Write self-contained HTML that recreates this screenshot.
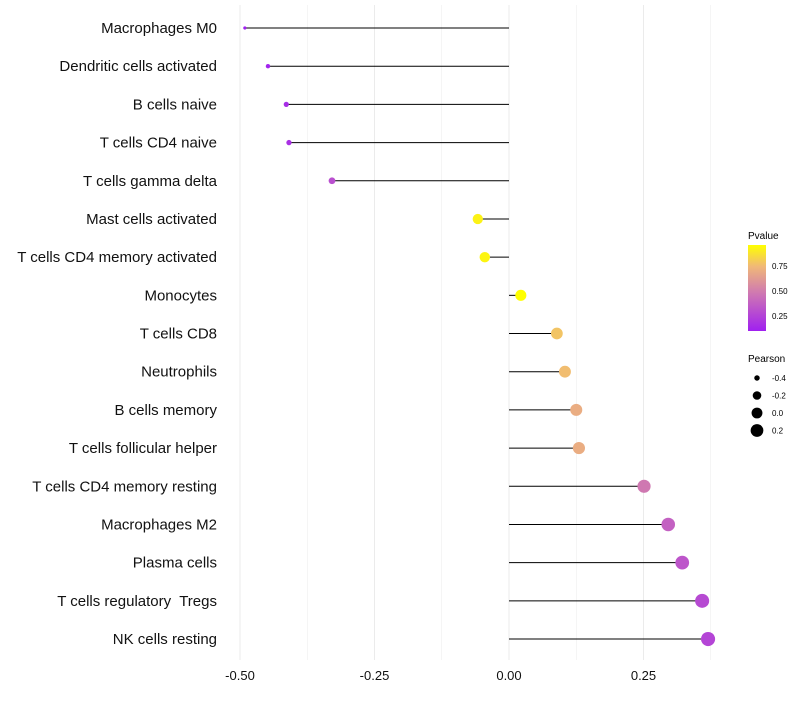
<!DOCTYPE html>
<html><head><meta charset="utf-8"><style>
body{margin:0;background:#fff;}
svg text{font-family:"Liberation Sans",sans-serif;white-space:pre;}
</style></head><body>
<svg id="chart" width="800" height="700" xmlns="http://www.w3.org/2000/svg">
<defs><linearGradient id="pg" x1="0" y1="1" x2="0" y2="0">
<stop offset="0" stop-color="#a020f0"/><stop offset="0.45" stop-color="#d07ab0"/><stop offset="0.75" stop-color="#f0b878"/><stop offset="1" stop-color="#ffff00"/></linearGradient></defs>
<g id="grid"></g><g id="marks"></g><g id="labels"></g><g id="xticks"></g>
<g>
<text x="748" y="239" font-size="10">Pvalue</text>
<rect x="748" y="245" width="18" height="86" fill="url(#pg)"/>
<text x="772" y="269" font-size="8">0.75</text><text x="772" y="294" font-size="8">0.50</text><text x="772" y="319" font-size="8">0.25</text>
<text x="748" y="362" font-size="10">Pearson</text>
<g id="sizeleg"></g>
</g>
</svg>
<script>
const categories=["Macrophages M0","Dendritic cells activated","B cells naive","T cells CD4 naive","T cells gamma delta","Mast cells activated","T cells CD4 memory activated","Monocytes","T cells CD8","Neutrophils","B cells memory","T cells follicular helper","T cells CD4 memory resting","Macrophages M2","Plasma cells","T cells regulatory  Tregs","NK cells resting"];
const pearson=[-0.491,-0.448,-0.414,-0.409,-0.329,-0.058,-0.045,0.022,0.089,0.104,0.125,0.130,0.251,0.296,0.322,0.359,0.370];
const pvalue=[0.05,0.12,0.16,0.17,0.3,0.92,0.93,0.99,0.78,0.76,0.7,0.7,0.48,0.38,0.33,0.28,0.26];
const xTicks=[-0.5,-0.25,0,0.25];
const xTickLabels=["-0.50","-0.25","0.00","0.25"];
const sizeLegend=[-0.4,-0.2,0.0,0.2];
const NS="http://www.w3.org/2000/svg";
const X=v=>509+v*538, Y=i=>28+i*38.19;
const R=v=>Math.sqrt(2+ (v+0.5)*55);
function mk(t,a,p){const e=document.createElementNS(NS,t);for(const k in a)e.setAttribute(k,a[k]);document.getElementById(p).appendChild(e);return e;}
function col(p){const s=[[0,[160,32,240]],[0.45,[208,122,176]],[0.75,[240,184,120]],[1,[255,255,0]]];let t=Math.max(0,Math.min(1,(p-0.1)/0.86));for(let i=1;i<s.length;i++){if(t<=s[i][0]){const f=(t-s[i-1][0])/(s[i][0]-s[i-1][0]);const c=s[i-1][1].map((a,j)=>Math.round(a+(s[i][1][j]-a)*f));return`rgb(${c})`;}}return"rgb(255,255,0)";}
[-0.5,-0.375,-0.25,-0.125,0,0.125,0.25,0.375].forEach(v=>{const l=mk("line",{x1:X(v),x2:X(v),y1:5,y2:660,stroke:"#ebebeb","stroke-width":Number.isInteger(v*4)?1:0.5},"grid");

});
xTicks.forEach((v,i)=>{const t=mk("text",{x:X(v),y:680,"font-size":13,"text-anchor":"middle",fill:"#111"},"xticks");t.textContent=xTickLabels[i];

});
categories.forEach((c,i)=>{const y=Y(i);
const l=mk("line",{x1:X(0),x2:X(pearson[i]),y1:y,y2:y,stroke:"#000","stroke-width":1},"marks");


const d=mk("circle",{cx:X(pearson[i]),cy:y,r:R(pearson[i]),fill:col(pvalue[i])},"marks");


const t=mk("text",{x:217,y:y+5,"font-size":15,"text-anchor":"end",fill:"#111"},"labels");t.textContent=c;

});
sizeLegend.forEach((v,i)=>{const y=378+i*17.5;
const d=mk("circle",{cx:757,cy:y,r:R(v),fill:"#000"},"sizeleg");


const t=mk("text",{x:772,y:y+3,"font-size":8},"sizeleg");t.textContent=v.toFixed(1);

});
</script>
</body></html>
